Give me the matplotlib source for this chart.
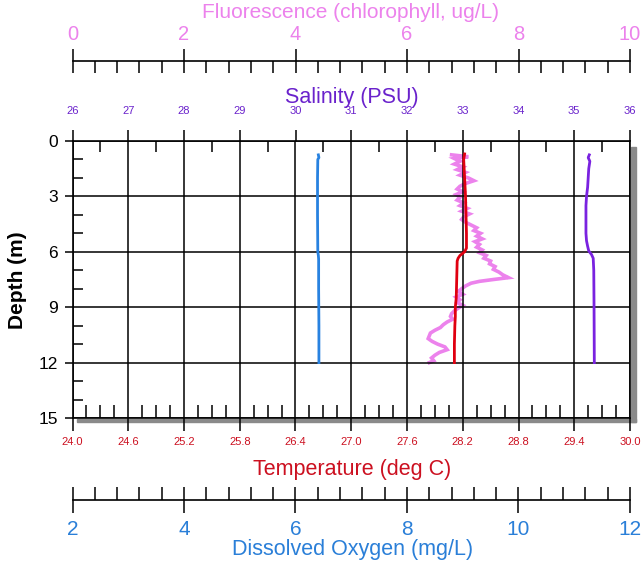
import matplotlib
matplotlib.use("Agg")
import matplotlib.pyplot as plt
from matplotlib.patches import Rectangle
from matplotlib.ticker import MultipleLocator, FormatStrFormatter

plt.rcParams["font.family"] = ["Liberation Sans", "DejaVu Sans"]

# ---- data
temp_depth = [0.7, 1.0, 2.0, 3.0, 4.0, 5.0, 5.8, 6.0, 6.2, 6.35, 6.5, 7.5, 8.5, 9.0, 9.5, 10.0, 11.0, 12.0]
temp = [28.22, 28.21, 28.22, 28.23, 28.235, 28.24, 28.24, 28.22, 28.17, 28.15, 28.14, 28.135,
        28.13, 28.12, 28.12, 28.115, 28.11, 28.11]

sal_depth = [0.75, 0.9, 1.1, 1.5, 2.0, 2.5, 3.0, 3.5, 4.5, 5.0, 5.4, 5.7, 5.95, 6.15, 6.35, 7.0, 9.0, 12.0]
salinity = [35.27, 35.25, 35.28, 35.26, 35.25, 35.24, 35.22, 35.21, 35.21, 35.21, 35.22, 35.24,
            35.26, 35.31, 35.34, 35.35, 35.355, 35.36]

do_depth = [0.75, 0.9, 1.0, 2.0, 4.0, 6.0, 6.2, 6.4, 8.0, 10.0, 12.0]
oxygen = [6.41, 6.42, 6.40, 6.395, 6.395, 6.40, 6.41, 6.415, 6.415, 6.42, 6.42]

fluo_depth = [
    0.75, 0.85, 0.95, 1.1, 1.25, 1.4, 1.55, 1.7, 1.85, 2.0,
    2.15, 2.3, 2.45, 2.6, 2.75, 2.9, 3.05, 3.2, 3.35, 3.5,
    3.65, 3.8, 3.95, 4.1, 4.25, 4.4, 4.55, 4.7, 4.85, 5.0,
    5.15, 5.3, 5.45, 5.6, 5.75, 5.9, 6.05, 6.2, 6.35, 6.5,
    6.65, 6.8, 6.95, 7.1, 7.25, 7.4, 7.5, 7.6, 7.7, 7.85,
    8.0, 8.15, 8.3, 8.45, 8.6, 8.75, 8.9, 9.05, 9.2, 9.35,
    9.5, 9.65, 9.8, 9.95, 10.1, 10.25, 10.4, 10.55, 10.7, 10.85,
    11.0, 11.15, 11.3, 11.45, 11.6, 11.75, 11.9, 12.0,
]
fluorescence = [
    6.80, 7.10, 6.85, 6.95, 6.85, 7.00, 6.90, 7.05, 6.95, 7.10,
    7.20, 7.05, 6.95, 6.90, 7.00, 6.88, 6.95, 6.90, 7.02, 6.95,
    7.08, 6.98, 7.12, 7.02, 6.98, 7.05, 7.15, 7.25, 7.20, 7.32,
    7.25, 7.35, 7.22, 7.30, 7.25, 7.35, 7.30, 7.42, 7.38, 7.50,
    7.48, 7.58, 7.55, 7.65, 7.72, 7.82, 7.55, 7.30, 7.15, 7.05,
    6.98, 6.92, 7.00, 6.88, 6.95, 6.90, 7.00, 6.92, 6.85, 6.80,
    6.78, 6.82, 6.72, 6.65, 6.60, 6.50, 6.42, 6.40, 6.38, 6.45,
    6.55, 6.68, 6.72, 6.58, 6.50, 6.44, 6.48, 6.40,
]

temp_ticks = [24.0, 24.6, 25.2, 25.8, 26.4, 27.0, 27.6, 28.2, 28.8, 29.4, 30.0]
depth_ticks = [0, 3, 6, 9, 12, 15]
sal_ticks = [26, 27, 28, 29, 30, 31, 32, 33, 34, 35, 36]
fluo_ticks = [0, 2, 4, 6, 8, 10]
do_ticks = [2, 4, 6, 8, 10, 12]

# ---- colours
C_FLUO = "#ec82ec"
C_SAL_LINE = "#7a22e0"
C_SAL_TXT = "#6a22cc"
C_TEMP_LINE = "#e00010"
C_TEMP_TXT = "#cc1020"
C_DO_LINE = "#2882e0"
C_DO_TXT = "#2a7fd8"

W, H = 644, 563
fig = plt.figure(figsize=(W / 100, H / 100), dpi=100, facecolor="white")


def fx(px):
    return px / W


def fy(py):
    return 1 - py / H


left, right, top, bottom = 72.5, 630, 141, 418
ax = fig.add_axes([fx(left), fy(bottom), fx(right - left), (bottom - top) / H])
ax.set_xlim(24, 30)
ax.set_ylim(15, 0)
ax.set_xticks(temp_ticks)
ax.xaxis.set_major_formatter(FormatStrFormatter("%.1f"))
ax.xaxis.set_minor_locator(MultipleLocator(0.15))
ax.set_yticks(depth_ticks)
ax.yaxis.set_minor_locator(MultipleLocator(1))
ax.grid(True, which="major", color="black", lw=1.1)
ax.tick_params(axis="x", which="major", direction="out", length=9.4, width=1.1, pad=4,
               labelsize=8, labelcolor=C_TEMP_TXT, top=False)
ax.tick_params(axis="x", which="minor", direction="in", length=9.4, width=1.1, top=False)
ax.tick_params(axis="y", which="major", direction="out", length=6, width=1.1, pad=4.5,
               labelsize=12.5, right=False)
ax.tick_params(axis="y", which="minor", direction="in", length=7, width=1.1, right=False)
for s in ax.spines.values():
    s.set_linewidth(1.2)

# fluorescence: detached top axis
ax_f = ax.twiny()
ax_f.set_xlim(0, 10)
ax_f.set_xticks(fluo_ticks)
ax_f.xaxis.set_minor_locator(MultipleLocator(0.4))
ax_f.spines["top"].set_position(("outward", 57.6))
for k in ["left", "right", "bottom"]:
    ax_f.spines[k].set_visible(False)
ax_f.spines["top"].set_linewidth(1.2)
ax_f.tick_params(axis="x", which="major", direction="inout", length=17, width=1.1, pad=4,
                 labelsize=14.5, labelcolor=C_FLUO)
ax_f.tick_params(axis="x", which="minor", direction="in", length=8.6, width=1.1)
ax_f.plot(fluorescence, fluo_depth, color=C_FLUO, lw=2.6, solid_joinstyle="miter")

# temperature line on the main axes
ax.plot(temp, temp_depth, color=C_TEMP_LINE, lw=2)

# salinity: top axis of the plot
ax_s = ax.twiny()
ax_s.set_xlim(26, 36)
ax_s.set_xticks(sal_ticks)
ax_s.xaxis.set_minor_locator(MultipleLocator(0.5))
for s in ax_s.spines.values():
    s.set_visible(False)
ax_s.tick_params(axis="x", which="major", direction="out", length=8, width=1.1, pad=10,
                 labelsize=8, labelcolor=C_SAL_TXT)
ax_s.tick_params(axis="x", which="minor", direction="in", length=8, width=1.1)
ax_s.plot(salinity, sal_depth, color=C_SAL_LINE, lw=2)

# dissolved oxygen: detached bottom axis
ax_o = ax.twiny()
ax_o.set_xlim(2, 12)
ax_o.xaxis.tick_bottom()
ax_o.set_xticks(do_ticks)
ax_o.xaxis.set_minor_locator(MultipleLocator(0.4))
ax_o.spines["bottom"].set_position(("outward", 59))
for k in ["left", "right", "top"]:
    ax_o.spines[k].set_visible(False)
ax_o.spines["bottom"].set_linewidth(1.2)
ax_o.tick_params(axis="x", which="major", direction="inout", length=19, width=1.1, pad=5,
                 labelsize=15, labelcolor=C_DO_TXT, top=False, labeltop=False,
                 bottom=True, labelbottom=True)
ax_o.tick_params(axis="x", which="minor", direction="in", length=9.4, width=1.1,
                 top=False, bottom=True)
ax_o.plot(oxygen, do_depth, color=C_DO_LINE, lw=2)

ax.set_zorder(2)
ax.patch.set_visible(False)
ax_f.set_zorder(1)
ax_s.set_zorder(3)
ax_o.set_zorder(4)

# drop shadow right/bottom
fig.patches.append(Rectangle((fx(631), fy(422)), fx(5), (422 - 147) / H,
                             transform=fig.transFigure, color="#8a8a8a", zorder=0))
fig.patches.append(Rectangle((fx(77), fy(422)), fx(636 - 77), 3.5 / H,
                             transform=fig.transFigure, color="#8a8a8a", zorder=0))

# axis titles
fig.text(fx(351), fy(13), "Fluorescence (chlorophyll, ug/L)", color=C_FLUO, fontsize=15,
         ha="center", va="center")
fig.text(fx(352), fy(97), "Salinity (PSU)", color=C_SAL_TXT, fontsize=15.5,
         ha="center", va="center")
fig.text(fx(352.5), fy(470), "Temperature (deg C)", color=C_TEMP_TXT, fontsize=15.5,
         ha="center", va="center")
fig.text(fx(353), fy(549), "Dissolved Oxygen (mg/L)", color=C_DO_TXT, fontsize=15.5,
         ha="center", va="center")
fig.text(fx(18), fy(280), "Depth (m)", fontsize=15, fontweight="bold", rotation=90,
         ha="center", va="center")

fig.savefig("out.png", dpi=100, facecolor="white")
